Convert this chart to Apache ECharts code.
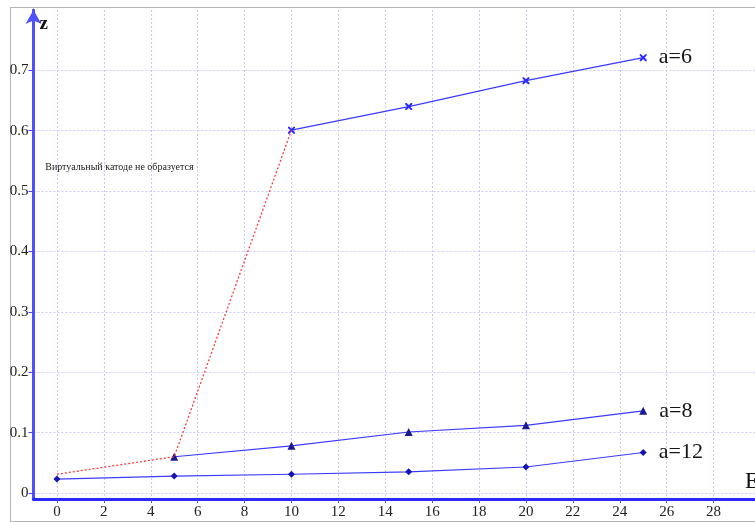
<!DOCTYPE html>
<html>
<head>
<meta charset="utf-8">
<script src="https://cdn.jsdelivr.net/npm/echarts@6/dist/echarts.min.js"></script>
<style>
  html, body { margin: 0; padding: 0; background: #fff; overflow: hidden; }
  #wrap { position: relative; width: 755px; height: 522px; overflow: hidden; }
  #frame { position: absolute; left: 10px; top: 7px; width: 800px; height: 513px;
           border: 1px solid #b4b4b4; pointer-events: none; }
  #chart { position: absolute; left: 0; top: 0; width: 755px; height: 522px; }
</style>
</head>
<body>
<div id="wrap">
  <div id="frame"></div>
  <div id="chart"></div>
</div>
<script>
// Beam energy E (x) and reduced position z of the virtual cathode (y)
const eValues   = [0, 5, 10, 15, 20, 25];
const zA6       = [null, null, 0.601, 0.640, 0.683, 0.721];
const zA8       = [null, 0.060, 0.078, 0.101, 0.112, 0.136];
const zA12      = [0.023, 0.028, 0.031, 0.035, 0.043, 0.067];
// boundary below which no virtual cathode forms (dotted red)
const boundaryE = [0, 5, 10];
const boundaryZ = [0.031, 0.060, 0.601];

const seriesNames = ['a=6', 'a=8', 'a=12'];
const xTicks = [0, 2, 4, 6, 8, 10, 12, 14, 16, 18, 20, 22, 24, 26, 28];
const yTicks = [0, 0.1, 0.2, 0.3, 0.4, 0.5, 0.6, 0.7];
const noteText = 'Виртуальный катоде не образуется';
const notePos = [-0.5, 0.54];

const serif = '"Liberation Serif", "DejaVu Serif", serif';
const lineBlue = '#3b3bff';

function pairs(xs, ys, name) {
  const out = [];
  xs.forEach((x, i) => {
    if (ys[i] == null) return;
    const item = { value: [x, ys[i]] };
    if (i === xs.length - 1) {
      item.label = {
        show: true, position: 'right', distance: 12, formatter: name,
        fontFamily: serif, fontSize: 22, color: '#151515'
      };
    }
    out.push(item);
  });
  return out;
}

const crossPath = 'path://M0,0L2,0L10,8L10,10L8,10L0,2Z M8,0L10,0L10,2L2,10L0,10L0,8Z';

const chart = echarts.init(document.getElementById('chart'), null, { renderer: 'canvas' });
chart.setOption({
  animation: false,
  backgroundColor: 'transparent',
  grid: { left: 33.5, right: -20, top: 10, bottom: 23, containLabel: false, outerBoundsMode: 'none' },
  xAxis: {
    type: 'value', min: -1, max: 30.62,
    name: 'E', nameLocation: 'end', nameGap: -30,
    nameTextStyle: { fontFamily: serif, fontSize: 23, color: '#111', verticalAlign: 'bottom', padding: [0, 0, 6, 0] },
    axisLine: { show: true, onZero: false, lineStyle: { color: '#2a2aff', width: 3 },
                symbol: ['none', 'arrow'], symbolSize: [12, 14] },
    axisTick: { show: true, customValues: xTicks, length: 4, lineStyle: { color: '#4a4aff' } },
    axisLabel: { customValues: xTicks, margin: 6, fontFamily: serif, fontSize: 15, color: '#222' },
    splitLine: { show: true, lineStyle: { color: '#cacaf6', width: 1, type: [2, 2] } }
  },
  yAxis: {
    type: 'value', min: -0.01, max: 0.8,
    name: 'z', nameLocation: 'end', nameGap: -24,
    nameTextStyle: { fontFamily: serif, fontSize: 19, fontWeight: 'bold', color: '#111', align: 'left', padding: [0, 0, 0, 6] },
    axisLine: { show: true, onZero: false, lineStyle: { color: '#5050ff', width: 3 },
                symbol: ['none', 'arrow'], symbolSize: [12, 14] },
    axisTick: { show: true, customValues: yTicks, length: 5, lineStyle: { color: '#4a4aff' } },
    axisLabel: { customValues: yTicks, margin: 5, fontFamily: serif, fontSize: 15, color: '#222',
                 formatter: v => (v === 0 ? '0' : v.toFixed(1)) },
    splitLine: { show: true, lineStyle: { color: '#cacaf6', width: 1, type: [2, 2] } }
  },
  series: [
    {
      name: seriesNames[0], type: 'line', data: pairs(eValues, zA6, seriesNames[0]),
      symbol: crossPath, symbolSize: 7, showAllSymbol: true,
      lineStyle: { color: lineBlue, width: 1.2 }, itemStyle: { color: '#2a2aff' }, z: 3
    },
    {
      name: seriesNames[1], type: 'line', data: pairs(eValues, zA8, seriesNames[1]),
      symbol: 'triangle', symbolSize: 8,
      lineStyle: { color: lineBlue, width: 1.2 }, itemStyle: { color: '#1a1a90' }, z: 3
    },
    {
      name: seriesNames[2], type: 'line', data: pairs(eValues, zA12, seriesNames[2]),
      symbol: 'diamond', symbolSize: 7,
      lineStyle: { color: lineBlue, width: 1.2 }, itemStyle: { color: '#1414b4' }, z: 3
    },
    {
      name: 'boundary', type: 'line', data: boundaryE.map((x, i) => [x, boundaryZ[i]]),
      symbol: 'none', lineStyle: { color: '#ff3a3a', width: 1.3, type: [2, 2] }, z: 4,
      markPoint: {
        symbol: 'circle', symbolSize: 0,
        data: [{ coord: notePos }],
        label: { show: true, position: 'right', distance: 0, formatter: noteText,
                 fontFamily: serif, fontSize: 10, color: '#222' }
      }
    }
  ]
});
</script>
</body>
</html>
